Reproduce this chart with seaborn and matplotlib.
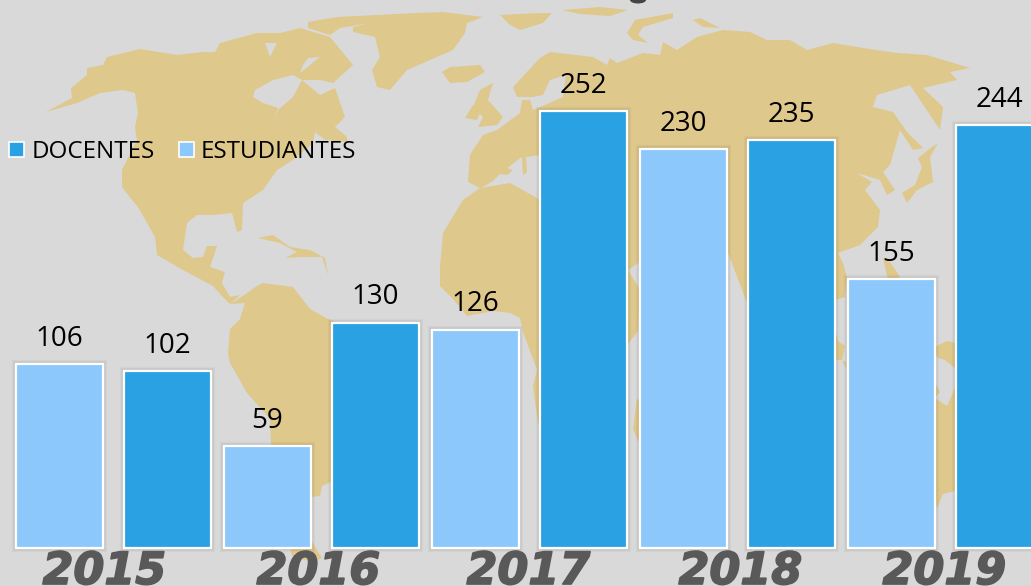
import matplotlib
matplotlib.use("Agg")

import matplotlib.patheffects as pe
import matplotlib.pyplot as plt
import pandas as pd
import seaborn as sns
from matplotlib.patches import Ellipse, Patch

# chart values
years = ["2015", "2016", "2017", "2018", "2019"]
estudiantes = [106, 59, 126, 230, 155]
docentes = [102, 130, 252, 235, 244]

DOCENTE_COLOR = "#2AA1E2"
ESTUDIANTE_COLOR = "#8CC8FC"
BG_COLOR = "#D9D9D9"
LAND_COLOR = "#DFC88C"
YEAR_COLOR = "#595959"

# background picture, traced by hand in image pixels
NORTH_AMERICA = [
    (46, 112), (72, 98), (71, 88), (87, 75), (87, 68), (103, 65), (107, 57), (140, 49),
    (177, 55), (203, 52), (215, 52), (220, 43), (257, 33), (280, 33), (300, 28), (330, 37),
    (353, 65), (333, 83), (320, 80), (302, 80), (320, 95), (335, 88), (345, 117), (335, 127),
    (347, 137), (347, 142), (325, 140), (315, 132), (313, 143), (293, 160), (277, 170),
    (263, 190), (243, 203), (242, 230), (237, 232), (232, 213), (213, 215), (197, 215),
    (187, 223), (183, 250), (193, 258), (203, 257), (207, 246), (217, 246), (210, 267),
    (225, 272), (222, 283), (230, 297), (240, 295), (230, 304), (222, 296), (213, 286),
    (183, 270), (157, 255), (155, 237), (138, 207), (132, 200), (122, 187), (122, 170),
    (137, 140), (135, 127), (138, 113), (135, 93), (123, 90), (100, 93), (77, 103),
]
BAJA = [(132, 207), (130, 220), (145, 242), (142, 227), (137, 208)]
SOUTH_AMERICA = [
    (230, 304), (240, 298), (257, 286), (263, 283), (293, 287), (310, 309), (328, 319),
    (375, 340), (372, 372), (342, 440), (335, 480), (322, 486), (320, 496), (310, 497),
    (305, 530), (322, 558), (312, 562), (292, 556), (272, 470), (270, 419), (247, 393),
    (230, 363), (228, 353), (230, 329), (240, 319), (245, 303),
]
GREENLAND = [
    (308, 22), (337, 17), (377, 15), (417, 13), (443, 12), (467, 15), (483, 17), (467, 23),
    (465, 33), (453, 50), (430, 60), (407, 70), (390, 90), (377, 87), (372, 70), (380, 57),
    (375, 37), (353, 32), (353, 27), (370, 23), (340, 28), (330, 35), (308, 28),
]
ICELAND = [(442, 72), (450, 67), (480, 65), (485, 72), (467, 82), (450, 83)]
BRITAIN = [(480, 90), (493, 83), (488, 100), (503, 117), (497, 125), (478, 127), (483, 117), (473, 107)]
IRELAND = [(465, 118), (473, 105), (480, 113), (477, 120)]
EURASIA_AFRICA = [
    (470, 155), (483, 135), (497, 130), (520, 113), (522, 100), (530, 100), (533, 110),
    (545, 105), (563, 97), (566, 75), (550, 80), (543, 95), (533, 97), (517, 97), (513, 87),
    (540, 58), (550, 52), (593, 57), (607, 65), (610, 58), (617, 63), (643, 53), (660, 55),
    (663, 42), (677, 50), (697, 37), (723, 30), (750, 32), (767, 40), (790, 40), (807, 50),
    (833, 43), (863, 48), (897, 53), (927, 55), (970, 68), (950, 72), (957, 80), (923, 88),
    (943, 107), (940, 130), (920, 100), (910, 85), (877, 95), (873, 107), (893, 112),
    (907, 132), (923, 148), (913, 150), (900, 130), (890, 165), (883, 172), (895, 190),
    (887, 195), (880, 180), (857, 173), (872, 182), (865, 190), (880, 210), (878, 227),
    (860, 245), (838, 253), (843, 263), (847, 277), (845, 297), (835, 300), (815, 270),
    (790, 275), (770, 330), (760, 330), (747, 303), (727, 250), (680, 235), (640, 262),
    (628, 270), (640, 290), (638, 331), (628, 344), (610, 400), (590, 440), (560, 445),
    (538, 423), (533, 386), (537, 370), (523, 332), (520, 318), (510, 313), (493, 311),
    (467, 316), (453, 299), (440, 286), (440, 267), (443, 233), (463, 200), (480, 188),
    (468, 182),
]
MEDITERRANEAN = [
    (481, 188), (493, 181), (500, 174), (520, 158), (540, 155), (560, 155), (545, 205),
    (537, 198), (510, 183),
]
MED_ISLANDS = [
    [(500, 174), (507, 168), (513, 170), (507, 175)],
    [(522, 158), (526, 157), (527, 172), (523, 175)],
]
HUDSON_BAY = [
    (255, 90), (273, 80), (293, 75), (302, 80), (293, 97), (278, 110), (273, 122),
    (278, 108), (263, 103), (253, 97),
]
ARCTIC_GAPS = [
    [(265, 43), (277, 43), (270, 57)],
    [(308, 58), (320, 57), (300, 73), (303, 65)],
]
CUBA = [(258, 238), (273, 235), (290, 247), (310, 250), (325, 258), (328, 275), (322, 257), (300, 257), (285, 258), (297, 252), (280, 243)]
ARCTIC_ISLANDS = [
    [(500, 15), (540, 13), (552, 13), (543, 23), (520, 30), (510, 25)],
    [(562, 10), (600, 7), (628, 10), (610, 16), (580, 14)],
    [(627, 33), (635, 20), (673, 13), (673, 18), (643, 27), (638, 35), (648, 43), (633, 40)],
    [(693, 20), (700, 18), (720, 28), (703, 27)],
]
JAPAN = [(902, 193), (915, 185), (922, 167), (918, 158), (928, 150), (938, 143), (930, 157), (933, 182), (917, 190), (907, 203)]
PHILIPPINES = [[(835, 328), (838, 341), (845, 346), (842, 360), (835, 360)], [(842, 361), (846, 362), (846, 368)], [(883, 258), (890, 262), (900, 277), (888, 280)]]
NEW_GUINEA = [(925, 352), (937, 346), (947, 341), (962, 345), (962, 374), (945, 360), (938, 358), (935, 353)]
AUSTRALIA = [
    (860, 430), (900, 385), (935, 383), (940, 392), (935, 398), (947, 406), (955, 388),
    (975, 400), (975, 480), (955, 491), (943, 494), (937, 509), (935, 494), (900, 470), (860, 480),
]
MADAGASCAR = [(637, 399), (640, 400), (640, 441), (638, 441), (633, 429)]

land_shapes = [
    NORTH_AMERICA, SOUTH_AMERICA, GREENLAND, ICELAND, BRITAIN, IRELAND, EURASIA_AFRICA,
    CUBA, JAPAN, NEW_GUINEA, AUSTRALIA, MADAGASCAR,
] + ARCTIC_ISLANDS + PHILIPPINES
sea_shapes = [BAJA, MEDITERRANEAN, HUDSON_BAY] + ARCTIC_GAPS

df = pd.DataFrame({
    "year": years * 2,
    "serie": ["ESTUDIANTES"] * len(years) + ["DOCENTES"] * len(years),
    "value": estudiantes + docentes,
})

sns.set_theme(style="white")
plt.rcParams["font.family"] = ["Open Sans", "DejaVu Sans"]

fig = plt.figure(figsize=(10.31, 5.86), dpi=100, facecolor=BG_COLOR)

map_ax = fig.add_axes([0, 0, 1, 1], zorder=0)
map_ax.set_xlim(0, 1031)
map_ax.set_ylim(586, 0)
map_ax.axis("off")
for shape in land_shapes:
    map_ax.fill(*zip(*shape), color=LAND_COLOR, lw=0)
for shape in sea_shapes:
    map_ax.fill(*zip(*shape), color=BG_COLOR, lw=0)
for shape in MED_ISLANDS:
    map_ax.fill(*zip(*shape), color=LAND_COLOR, lw=0)
map_ax.add_patch(Ellipse((638, 0), 16, 7, color="#444444", lw=0))

ax = fig.add_axes([0, 0, 1, 1], zorder=1)
ax.patch.set_visible(False)

sns.barplot(
    data=df,
    x="year",
    y="value",
    hue="serie",
    hue_order=["ESTUDIANTES", "DOCENTES"],
    palette={"ESTUDIANTES": ESTUDIANTE_COLOR, "DOCENTES": DOCENTE_COLOR},
    saturation=1,
    width=1.04,
    gap=0.195,
    edgecolor="white",
    linewidth=1.6,
    legend=False,
    ax=ax,
)

shadow = [
    pe.Stroke(linewidth=6, foreground="black", alpha=0.03),
    pe.Stroke(linewidth=4, foreground="black", alpha=0.05),
    pe.Normal(),
]
for container in ax.containers:
    for bar in container:
        bar.set_path_effects(shadow)
    ax.bar_label(container, fontsize=20, color="black", padding=8)

ax.set_xlim(-0.5457, 4.411)
ax.set_ylim(-21.9, 316)
ax.axis("off")

# year captions sit a little off the group centres in the original
year_nudge = [-9, -3, -1, 3, -1]
for i, year in enumerate(years):
    ax.annotate(
        year,
        (i, 0),
        xytext=(year_nudge[i], -36),
        textcoords="offset pixels",
        ha="center",
        va="baseline",
        fontsize=32,
        fontweight="bold",
        fontstyle="oblique",
        family="DejaVu Sans",
        color=YEAR_COLOR,
        annotation_clip=False,
        path_effects=[pe.withStroke(linewidth=1.2, foreground=YEAR_COLOR)],
    )

handles = [
    Patch(facecolor=DOCENTE_COLOR, edgecolor="white", linewidth=1.2, label="DOCENTES"),
    Patch(facecolor=ESTUDIANTE_COLOR, edgecolor="white", linewidth=1.2, label="ESTUDIANTES"),
]
ax.legend(
    handles=handles,
    ncol=2,
    loc="center left",
    bbox_to_anchor=(9 / 1031, 1 - 152 / 586),
    frameon=False,
    fontsize=17.4,
    handlelength=0.62,
    handleheight=0.62,
    handletextpad=0.3,
    columnspacing=1.0,
    borderpad=0,
    borderaxespad=0,
    labelcolor="black",
)

fig.savefig("out.png", dpi=100, facecolor=BG_COLOR)
plt.close(fig)
